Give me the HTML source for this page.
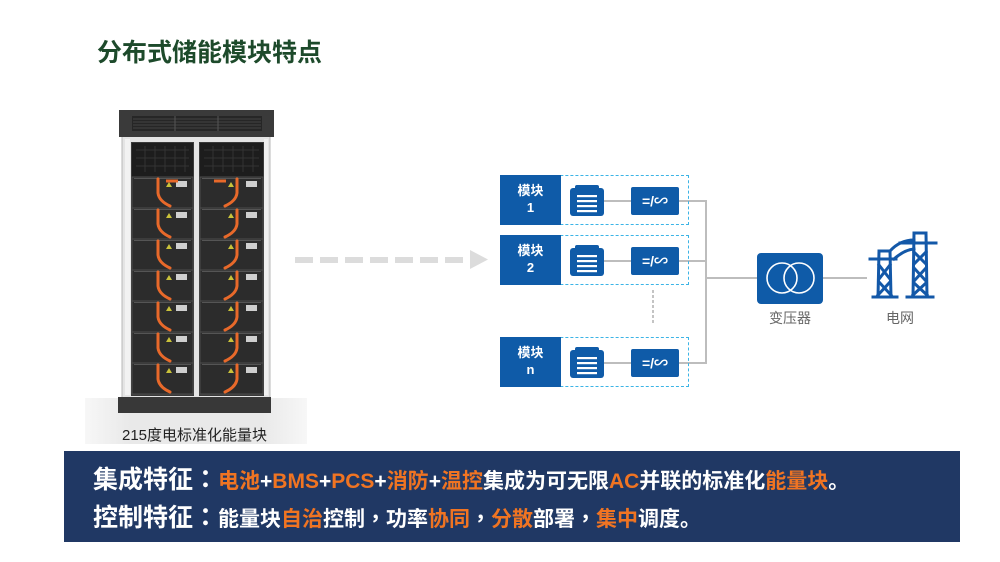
<!DOCTYPE html>
<html><head><meta charset="utf-8">
<style>
*{margin:0;padding:0;box-sizing:border-box}
html,body{width:1000px;height:562px;background:#fff;overflow:hidden}
body{position:relative;font-family:"Liberation Sans","Noto Sans CJK SC",sans-serif}
.abs{position:absolute}
.title{left:97px;top:37px;font-size:25px;font-weight:bold;color:#1d4a2b;line-height:32px;white-space:nowrap;letter-spacing:0px}
.lbl{position:absolute;background:#0f5ba8;color:#fff;font-weight:bold;font-size:13px;text-align:center;line-height:17px;padding-top:7px}
.outline{position:absolute;border:1px dashed #3cb4e6}
.bat{position:absolute}
.conv{position:absolute;background:#0f5ba8;border-radius:2px;color:#fff;font-weight:bold;font-size:14px;text-align:center;line-height:28px}
.cap{position:absolute;font-size:14px;color:#666;white-space:nowrap}
.banner{left:64px;top:451px;width:896px;height:91px;background:#203864}
.bl{position:absolute;left:93px;white-space:nowrap;color:#fff;font-weight:bold;font-size:21px;line-height:26px}
.bl .h{font-size:25px}
.o{color:#f07422}
.p{font-family:"Liberation Sans","Noto Sans CJK TC",sans-serif}
</style></head><body>

<div class="abs title">分布式储能模块特点</div>

<svg class="abs" style="left:0;top:0" width="1000" height="562" viewBox="0 0 1000 562">
  <defs>
    <linearGradient id="sh" x1="0" x2="1" y1="0" y2="0">
      <stop offset="0" stop-color="#f7f7f7"/>
      <stop offset="0.2" stop-color="#e9e9e9"/>
      <stop offset="0.8" stop-color="#e9e9e9"/>
      <stop offset="1" stop-color="#f7f7f7"/>
    </linearGradient>
    <g id="ml">
      <rect x="0" y="0" width="61" height="31" fill="#2c2c2c" stroke="#4d4d4d" stroke-width="1"/>
      <rect x="2" y="1" width="57" height="1" fill="#555"/>
      <rect x="44" y="4" width="11" height="6" fill="#cfcfcf"/>
      <polygon points="34,10 37,5 40,10" fill="#c9c23a"/>
      <path d="M26 2 L26 16 Q27 24 38 29" stroke="#e8692a" stroke-width="3" fill="none" stroke-linecap="round"/>
    </g>
    <g id="mr">
      <rect x="0" y="0" width="63" height="31" fill="#2c2c2c" stroke="#4d4d4d" stroke-width="1"/>
      <rect x="2" y="1" width="59" height="1" fill="#555"/>
      <rect x="46" y="4" width="11" height="6" fill="#cfcfcf"/>
      <polygon points="28,10 31,5 34,10" fill="#c9c23a"/>
      <path d="M37 2 L37 16 Q36 24 25 29" stroke="#e8692a" stroke-width="3" fill="none" stroke-linecap="round"/>
    </g>
  </defs>
  <rect x="85" y="398" width="222" height="46" fill="url(#sh)"/>
  <rect x="122" y="136" width="148" height="262" fill="#e4e4e4" stroke="#b9b9b9"/>
  <rect x="125" y="139" width="5" height="256" fill="#f2f2f2"/>
  <rect x="264" y="139" width="4" height="256" fill="#f0f0f0"/>
  <rect x="119" y="110" width="155" height="27" fill="#3a3a3a"/>
  <rect x="132" y="116" width="130" height="15" fill="#262626"/>
  <g stroke="#444" stroke-width="1">
    <line x1="133" y1="119" x2="261" y2="119"/><line x1="133" y1="122" x2="261" y2="122"/>
    <line x1="133" y1="125" x2="261" y2="125"/><line x1="133" y1="128" x2="261" y2="128"/>
    <line x1="175" y1="116" x2="175" y2="131" stroke="#555"/><line x1="218" y1="116" x2="218" y2="131" stroke="#555"/>
  </g>
  <rect x="131" y="142" width="63" height="254" fill="#3a3a3a"/>
  <rect x="199" y="142" width="65" height="254" fill="#3a3a3a"/>
  <rect x="132" y="143" width="61" height="34" fill="#1d1d1d"/>
  <rect x="200" y="143" width="63" height="34" fill="#1d1d1d"/>
  <g stroke="#333" stroke-width="1">
    <line x1="136" y1="150" x2="189" y2="150"/><line x1="136" y1="158" x2="189" y2="158"/><line x1="136" y1="166" x2="189" y2="166"/>
    <line x1="204" y1="150" x2="259" y2="150"/><line x1="204" y1="158" x2="259" y2="158"/><line x1="204" y1="166" x2="259" y2="166"/>
    <line x1="145" y1="146" x2="145" y2="172"/><line x1="155" y1="146" x2="155" y2="172"/><line x1="165" y1="146" x2="165" y2="172"/><line x1="175" y1="146" x2="175" y2="172"/><line x1="185" y1="146" x2="185" y2="172"/>
    <line x1="213" y1="146" x2="213" y2="172"/><line x1="223" y1="146" x2="223" y2="172"/><line x1="233" y1="146" x2="233" y2="172"/><line x1="243" y1="146" x2="243" y2="172"/><line x1="253" y1="146" x2="253" y2="172"/>
  </g>
  <use href="#ml" x="132" y="177"/><use href="#ml" x="132" y="208"/><use href="#ml" x="132" y="239"/>
  <use href="#ml" x="132" y="270"/><use href="#ml" x="132" y="301"/><use href="#ml" x="132" y="332"/><use href="#ml" x="132" y="363"/>
  <use href="#mr" x="200" y="177"/><use href="#mr" x="200" y="208"/><use href="#mr" x="200" y="239"/>
  <use href="#mr" x="200" y="270"/><use href="#mr" x="200" y="301"/><use href="#mr" x="200" y="332"/><use href="#mr" x="200" y="363"/>
  <line x1="166" y1="181" x2="178" y2="181" stroke="#e8692a" stroke-width="3"/>
  <line x1="214" y1="181" x2="226" y2="181" stroke="#e8692a" stroke-width="3"/>
  <rect x="118" y="397" width="153" height="16" fill="#383838"/>

  <g fill="#dcdcdc">
    <rect x="295" y="257" width="18" height="6"/><rect x="320" y="257" width="18" height="6"/>
    <rect x="345" y="257" width="18" height="6"/><rect x="370" y="257" width="18" height="6"/>
    <rect x="395" y="257" width="18" height="6"/><rect x="420" y="257" width="18" height="6"/>
    <rect x="445" y="257" width="18" height="6"/>
    <polygon points="470,250 488,259.5 470,269"/>
  </g>

  <g stroke="#bdbdbd" stroke-width="2" fill="none">
    <line x1="603" y1="201" x2="631" y2="201"/>
    <line x1="603" y1="261" x2="631" y2="261"/>
    <line x1="603" y1="363" x2="631" y2="363"/>
    <polyline points="679,201 706,201 706,363 679,363"/>
    <line x1="679" y1="261" x2="706" y2="261"/>
    <line x1="706" y1="278" x2="757" y2="278"/>
    <line x1="823" y1="278" x2="867" y2="278"/>
  </g>
  <g fill="#c4c4c4">
    <rect x="652" y="290" width="2" height="3"/><rect x="652" y="295" width="2" height="3"/>
    <rect x="652" y="300" width="2" height="3"/><rect x="652" y="305" width="2" height="3"/>
    <rect x="652" y="310" width="2" height="3"/><rect x="652" y="315" width="2" height="3"/>
    <rect x="652" y="320" width="2" height="3"/>
  </g>

  <rect x="757" y="253" width="66" height="51" rx="4" fill="#0f5ba8"/>
  <circle cx="782" cy="278" r="15" stroke="#fff" stroke-width="1.6" fill="none"/>
  <circle cx="799" cy="278" r="15" stroke="#fff" stroke-width="1.6" fill="none"/>

  <g stroke="#1358a8" stroke-width="3" fill="none" stroke-linecap="square">
    <line x1="914" y1="233" x2="926" y2="233"/>
    <line x1="914" y1="233" x2="913" y2="297"/>
    <line x1="926" y1="233" x2="927" y2="297"/>
    <line x1="907" y1="297" x2="933" y2="297"/>
    <line x1="900" y1="243" x2="936" y2="243"/>
    <line x1="914" y1="252" x2="926" y2="264"/><line x1="926" y1="252" x2="914" y2="264"/>
    <line x1="914" y1="268" x2="926" y2="281"/><line x1="926" y1="268" x2="914" y2="281"/>
    <line x1="914" y1="283" x2="927" y2="295"/><line x1="926" y1="283" x2="913" y2="295"/>
    <line x1="879" y1="251" x2="890" y2="251"/>
    <line x1="879" y1="251" x2="878" y2="297"/>
    <line x1="890" y1="251" x2="891" y2="297"/>
    <line x1="873" y1="297" x2="897" y2="297"/>
    <line x1="870" y1="259" x2="896" y2="259"/>
    <line x1="879" y1="265" x2="890" y2="279"/><line x1="890" y1="265" x2="879" y2="279"/>
    <line x1="879" y1="282" x2="891" y2="295"/><line x1="890" y1="282" x2="878" y2="295"/>
    <path d="M890 251 Q900 240 914 240"/>
    <path d="M894 259 Q904 250 914 249"/>
  </g>
</svg>

<div class="cap" style="left:122px;top:424px;font-size:15px;color:#222">215度电标准化能量块</div>

<div class="outline" style="left:500px;top:175px;width:189px;height:50px"></div>
<div class="lbl" style="left:500px;top:175px;width:61px;height:50px">模块<br>1</div>
<div class="outline" style="left:500px;top:235px;width:189px;height:50px"></div>
<div class="lbl" style="left:500px;top:235px;width:61px;height:50px">模块<br>2</div>
<div class="outline" style="left:500px;top:337px;width:189px;height:50px"></div>
<div class="lbl" style="left:500px;top:337px;width:61px;height:50px">模块<br>n</div>

<svg class="bat" style="left:570px;top:185px" width="34" height="31" viewBox="0 0 34 31">
  <rect x="5" y="0" width="24" height="6" rx="2" fill="#0f5ba8"/>
  <rect x="0" y="3" width="34" height="28" rx="3" fill="#0f5ba8"/>
  <g fill="#fff"><rect x="7" y="10" width="20" height="2.2"/><rect x="7" y="15" width="20" height="2.2"/><rect x="7" y="20" width="20" height="2.2"/><rect x="7" y="25" width="20" height="2.2"/></g>
</svg>
<svg class="bat" style="left:570px;top:245px" width="34" height="31" viewBox="0 0 34 31">
  <rect x="5" y="0" width="24" height="6" rx="2" fill="#0f5ba8"/>
  <rect x="0" y="3" width="34" height="28" rx="3" fill="#0f5ba8"/>
  <g fill="#fff"><rect x="7" y="10" width="20" height="2.2"/><rect x="7" y="15" width="20" height="2.2"/><rect x="7" y="20" width="20" height="2.2"/><rect x="7" y="25" width="20" height="2.2"/></g>
</svg>
<svg class="bat" style="left:570px;top:347px" width="34" height="31" viewBox="0 0 34 31">
  <rect x="5" y="0" width="24" height="6" rx="2" fill="#0f5ba8"/>
  <rect x="0" y="3" width="34" height="28" rx="3" fill="#0f5ba8"/>
  <g fill="#fff"><rect x="7" y="10" width="20" height="2.2"/><rect x="7" y="15" width="20" height="2.2"/><rect x="7" y="20" width="20" height="2.2"/><rect x="7" y="25" width="20" height="2.2"/></g>
</svg>

<div class="conv" style="left:631px;top:187px;width:48px;height:28px">=/∽</div>
<div class="conv" style="left:631px;top:247px;width:48px;height:28px">=/∽</div>
<div class="conv" style="left:631px;top:349px;width:48px;height:28px">=/∽</div>

<div class="cap" style="left:769px;top:308px">变压器</div>
<div class="cap" style="left:886px;top:308px">电网</div>

<div class="abs banner"></div>
<div class="bl" style="top:467px"><span class="h">集成特征<span class="p">：</span></span><span class="o">电池</span>+<span class="o">BMS</span>+<span class="o">PCS</span>+<span class="o">消防</span>+<span class="o">温控</span>集成为可无限<span class="o">AC</span>并联的标准化<span class="o">能量块</span>。</div>
<div class="bl" style="top:505px"><span class="h">控制特征<span class="p">：</span></span>能量块<span class="o">自治</span>控制<span class="p">，</span>功率<span class="o">协同</span><span class="p">，</span><span class="o">分散</span>部署<span class="p">，</span><span class="o">集中</span>调度。</div>

</body></html>
